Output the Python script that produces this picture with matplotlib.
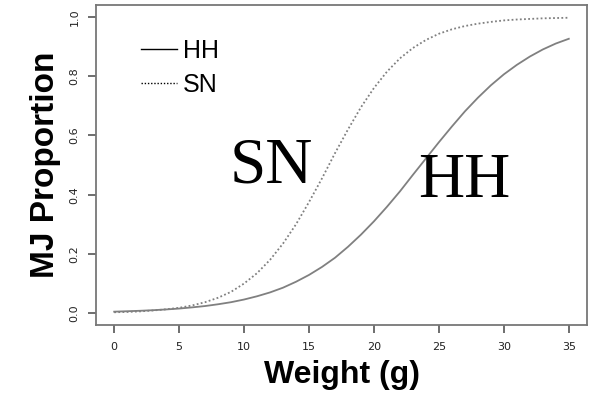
import matplotlib
matplotlib.use("Agg")
import matplotlib.pyplot as plt

# weight (g) and fitted MJ proportion
weight = list(range(0, 36))
hh = [0.005, 0.0065, 0.008, 0.010, 0.0125, 0.0155, 0.0195, 0.024, 0.030, 0.037,
      0.046, 0.057, 0.070, 0.086, 0.106, 0.129, 0.156, 0.187, 0.224, 0.265,
      0.310, 0.359, 0.411, 0.467, 0.522, 0.577, 0.630, 0.681, 0.727, 0.769,
      0.806, 0.838, 0.866, 0.890, 0.910, 0.926]
sn = [0.003, 0.004, 0.006, 0.009, 0.013, 0.018, 0.026, 0.037, 0.052, 0.072,
      0.100, 0.135, 0.180, 0.235, 0.300, 0.375, 0.455, 0.540, 0.620, 0.695,
      0.760, 0.815, 0.860, 0.895, 0.922, 0.943, 0.958, 0.969, 0.977, 0.983,
      0.988, 0.991, 0.993, 0.995, 0.996, 0.997]

xticks = [0, 5, 10, 15, 20, 25, 30, 35]
yticks = [0.0, 0.2, 0.4, 0.6, 0.8, 1.0]

grey = "#808080"

fig = plt.figure(figsize=(5.92, 4.01), dpi=100)
ax = fig.add_axes([96 / 592, 1 - 325 / 401, 491 / 592, 320 / 401])

ax.plot(weight, hh, color=grey, lw=1.3, label="HH")
ax.plot(weight, sn, color=grey, lw=1.3, linestyle=(0, (1, 1.3)), label="SN")

ax.set_xlim(-1.4, 36.4)
ax.set_ylim(-0.04, 1.04)
ax.set_xticks(xticks)
ax.set_xticklabels([str(t) for t in xticks])
ax.set_yticks(yticks)
ax.set_yticklabels(["%.1f" % t for t in yticks], rotation=90, va="center")
ax.tick_params(axis="both", direction="out", length=6, width=1.2, color="#555555",
               labelsize=8, labelcolor="#222222")
ax.tick_params(axis="x", pad=6)
ax.tick_params(axis="y", pad=6)
for s in ax.spines.values():
    s.set_color("#777777")
    s.set_linewidth(1.3)

ax.set_xlabel("Weight (g)", fontsize=23, fontweight="bold", family="Liberation Sans", labelpad=6)
ax.set_ylabel("MJ Proportion", fontsize=24, fontweight="bold", family="Liberation Sans", labelpad=6)

ax.text(8.9, 0.44, "SN", fontsize=47, family="Liberation Serif", ha="left", va="baseline")
ax.text(23.4, 0.393, "HH", fontsize=46, family="Liberation Serif", ha="left", va="baseline")

leg = ax.legend(loc="upper left", bbox_to_anchor=(0.091, 0.895), frameon=False,
                borderpad=0, borderaxespad=0,
                handlelength=1.45, handletextpad=0.25, labelspacing=0.4,
                prop={"family": "Liberation Sans", "size": 18})
for h in leg.get_lines():
    h.set_color("black")
    h.set_linewidth(1.0)

plt.savefig("out.png", dpi=100)
